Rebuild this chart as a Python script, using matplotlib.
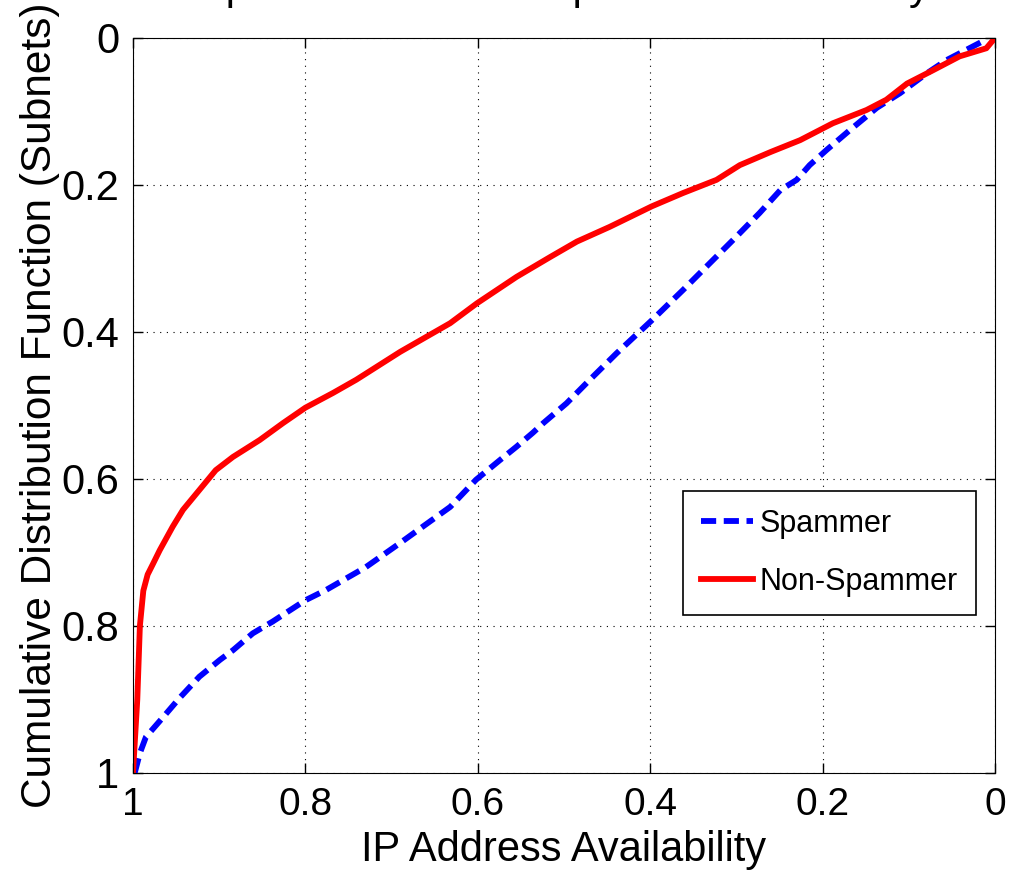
# Spammer vs non-spammer IP availability CDF (reversed axes)

import matplotlib
matplotlib.use("Agg")
import matplotlib.pyplot as plt

plt.rcParams['font.family'] = ['Liberation Sans', 'DejaVu Sans']

# Spammer curve: availability vs CDF
spam_avail = [0.998, 0.992, 0.985, 0.965, 0.946, 0.923, 0.899, 0.884, 0.861, 0.838,
              0.800, 0.776, 0.730, 0.690, 0.664, 0.632, 0.602, 0.574, 0.555, 0.536,
              0.524, 0.497, 0.470, 0.439, 0.398, 0.362, 0.339, 0.304, 0.273, 0.249,
              0.230, 0.215, 0.195, 0.168, 0.137, 0.110, 0.079, 0.056, 0.033, 0.015]
spam_cdf = [1.000, 0.973, 0.951, 0.924, 0.898, 0.869, 0.846, 0.833, 0.810, 0.794,
            0.765, 0.751, 0.720, 0.687, 0.665, 0.638, 0.601, 0.574, 0.556, 0.537,
            0.524, 0.497, 0.465, 0.429, 0.384, 0.343, 0.316, 0.275, 0.238, 0.207,
            0.193, 0.173, 0.152, 0.125, 0.095, 0.075, 0.048, 0.030, 0.016, 0.005]

# Non-spammer curve
non_avail = [1.000, 0.998, 0.995, 0.992, 0.988, 0.983, 0.977, 0.969, 0.954, 0.942,
             0.923, 0.904, 0.884, 0.853, 0.826, 0.800, 0.768, 0.741, 0.690, 0.632,
             0.601, 0.555, 0.516, 0.485, 0.447, 0.398, 0.362, 0.323, 0.296, 0.260,
             0.226, 0.188, 0.149, 0.126, 0.102, 0.072, 0.041, 0.010, 0.000]
non_cdf = [1.000, 0.960, 0.900, 0.800, 0.752, 0.730, 0.716, 0.697, 0.665, 0.642,
           0.615, 0.588, 0.570, 0.547, 0.524, 0.503, 0.483, 0.465, 0.427, 0.388,
           0.361, 0.325, 0.298, 0.277, 0.257, 0.229, 0.211, 0.193, 0.173, 0.155,
           0.139, 0.116, 0.098, 0.084, 0.062, 0.044, 0.025, 0.014, 0.000]

ticks = [0, 0.2, 0.4, 0.6, 0.8, 1]
tick_labels = ['0', '0.2', '0.4', '0.6', '0.8', '1']

fig = plt.figure(figsize=(10.09, 8.77), dpi=100)
ax = fig.add_axes([0.1318, 0.1186, 0.8543, 0.8381])

ax.plot(spam_avail, spam_cdf, color='blue', lw=4.2, linestyle=(0, (2.6, 1.3)),
        label='Spammer')
ax.plot(non_avail, non_cdf, color='red', lw=4.2, label='Non-Spammer')

ax.set_xlim(1, 0)
ax.set_ylim(1, 0)
ax.set_xticks(ticks)
ax.set_xticklabels(tick_labels)
ax.set_yticks(ticks)
ax.set_yticklabels(tick_labels)
ax.tick_params(direction='in', length=7, width=1, top=True, right=True, pad=10)
ax.tick_params(axis='x', labelsize=28)
ax.tick_params(axis='y', labelsize=30)
ax.grid(True, color='black', linestyle=(0, (1, 5)), lw=0.8)

ax.set_xlabel('IP Address Availability', fontsize=30)
ax.xaxis.set_label_coords(0.5, -0.078)
ax.set_ylabel('Cumulative Distribution Function (Subnets)', fontsize=30.5)
ax.yaxis.set_label_coords(-0.085, 0.5)
ax.set_title('Spammer vs. Non-Spammer Availability', fontsize=30, pad=28)

leg = ax.legend(loc='lower right', bbox_to_anchor=(0.978, 0.215), fontsize=22,
                handlelength=1.7, handletextpad=0.2, labelspacing=0.9,
                borderpad=0.6, fancybox=False, framealpha=1,
                edgecolor='black', borderaxespad=0)
leg.get_frame().set_linewidth(1.2)

fig.savefig('out.png', dpi=100)
